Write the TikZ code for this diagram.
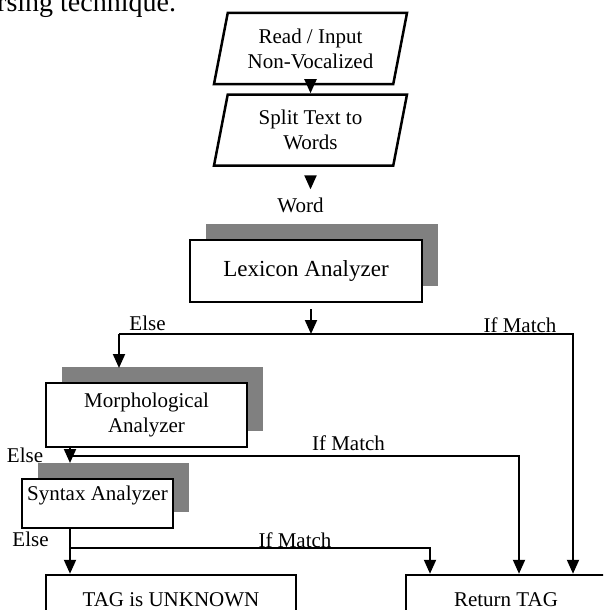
\documentclass[tikz,border=0pt]{standalone}
\usepackage{fontspec}
\setmainfont{Liberation Serif}
\usetikzlibrary{shapes.geometric,arrows.meta,shadows}
\definecolor{shadowgray}{RGB}{128,128,128}
\begin{document}
\begin{tikzpicture}[x=1pt,y=-1pt,
  txt/.style={font=\fontsize{21}{25}\selectfont},
  para/.style={txt, align=center, draw, line width=2.5pt, shape=trapezium,
    trapezium left angle=71, trapezium right angle=109, trapezium stretches body,
    minimum width=193pt, minimum height=71pt, inner sep=0pt},
  box/.style={txt, draw, fill=white, line width=2.5pt, inner sep=0pt},
  shbox/.style={box, general shadow={fill=shadowgray, shadow xshift=16pt, shadow yshift=16pt}},
  conn/.style={line width=2pt},
  arr/.style={conn, -{Triangle[width=12pt,length=14pt]}},
  lbl/.style={txt, inner sep=0pt}
]
\clip (0,0) rectangle (603,610);
\path[use as bounding box] (0,0) rectangle (603,610);

\node[anchor=base west, inner sep=0pt, font=\fontsize{28}{32}\selectfont] (head) at (-3,12) {rsing technique.};

\node[para] (p1) at (310.5,48.5) {Read / Input\\Non-Vocalized};
\node[para] (p2) at (310.5,130) {Split Text to\\Words};
\node[lbl] (word) at (300.5,205) {Word};

\node[shbox, minimum width=232pt, minimum height=62pt, font=\fontsize{23}{27}\selectfont] (lex) at (306,271) {Lexicon Analyzer};
\node[shbox, align=center, minimum width=201pt, minimum height=64pt] (morph) at (146.5,415) {Morphological\\Analyzer};
\node[shbox, minimum width=151pt, text height=21pt, text depth=28pt] (syn) at (97.5,503.5) {Syntax Analyzer};
\node[box, minimum width=250pt, minimum height=50pt] (unk) at (171,600) {TAG is UNKNOWN};
\node[box, minimum width=200pt, minimum height=50pt] (ret) at (506,600) {Return TAG};

\coordinate (j1) at (311,334);
\coordinate (e1) at (119,334);
\coordinate (m1) at (573,334);
\coordinate (e1end) at (119,368);
\coordinate (j2) at (70,456);
\coordinate (k2) at (519,456);
\coordinate (s2) at (70,463);
\coordinate (j3) at (70,548);
\coordinate (k3) at (430,548);

\draw[arr] (p1) -- (p2);
\draw[arr, shorten <=9pt, shorten >=8pt] (p2.south) -- (p2.south |- word.north);
\draw[arr, shorten <=6pt] (j1 |- lex.south) -- (j1);
\draw[arr] (e1) -- (m1) -- (m1 |- ret.north);
\draw[arr] (e1) -- (e1end);
\draw[arr] (j2 |- morph.south) -- (s2);
\draw[arr] (j2) -- (k2) -- (k2 |- ret.north);
\draw[arr] (j3 |- syn.south) -- (j3 |- unk.north);
\draw[arr] (j3) -- (k3) -- (k3 |- ret.north);

\node[lbl] (else1) at (147.5,323) {Else};
\node[lbl] (match1) at (520,325) {If Match};
\node[lbl] (else2) at (25,455) {Else};
\node[lbl] (match2) at (348.5,443) {If Match};
\node[lbl] (else3) at (30.5,539) {Else};
\node[lbl] (match3) at (295,540) {If Match};
\end{tikzpicture}
\end{document}
